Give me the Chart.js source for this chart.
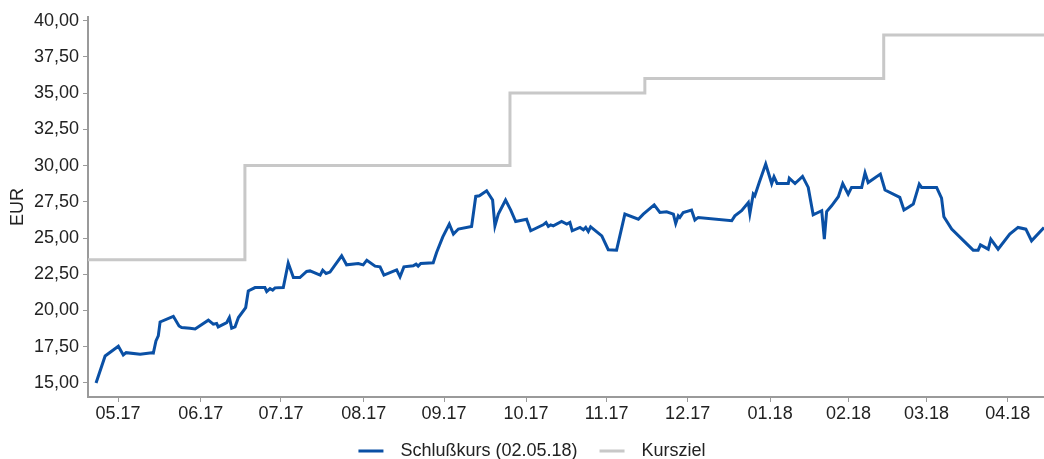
<!DOCTYPE html>
<html>
<head>
<meta charset="utf-8">
<script src="https://cdn.jsdelivr.net/npm/chart.js@4/dist/chart.umd.min.js"></script>
<style>
  html, body { margin: 0; padding: 0; background: #fff; }
  #wrap { width: 1044px; height: 459px; position: relative; }
</style>
</head>
<body>
<div id="wrap"><canvas id="chart"></canvas></div>
<script>
// days counted from 02.05.17
const closeDays = [0, 3.5, 8.6, 10.5, 11.6, 17.0, 21.5, 22.1, 23.1, 24.0, 24.7, 29.8, 32.0, 33.0, 36.2, 38.2,
  43.3, 45.2, 46.5, 47.1, 50.4, 51.4, 52.3, 53.6, 54.9, 57.7, 58.7, 61.3, 65.1, 65.8, 67.1, 68.1, 69.0,
  72.2, 74.1, 76.1, 78.6, 81.2, 82.5, 86.4, 87.4, 88.7, 90.2, 94.7, 96.6, 101.1, 103.0, 104.4, 107.6,
  109.5, 111.0, 115.9, 117.2, 118.7, 122.3, 123.4, 124.2, 125.2, 130.0, 131.3, 133.7, 136.2, 137.8,
  139.7, 144.8, 146.4, 147.8, 150.6, 152.9, 153.8, 155.1, 157.9, 159.9, 161.8, 166.0, 167.6, 172.4,
  173.5, 174.4, 175.3, 176.3, 179.5, 181.5, 182.7, 183.6, 186.6, 187.9, 188.8, 189.8, 190.7, 195.0,
  197.5, 200.7, 203.9, 209.1, 211.0, 215.2, 217.4, 220.0, 222.6, 223.5, 224.5, 225.1, 226.4, 229.6,
  230.9, 232.2, 245.1, 246.3, 248.9, 251.5, 252.1, 253.4, 254.0, 255.7, 258.2, 260.5, 261.4, 262.6,
  266.9, 267.3, 269.5, 272.4, 274.6, 276.5, 279.8, 280.8, 281.7, 283.6, 286.2, 287.9, 290.0, 291.3,
  295.2, 296.5, 297.7, 302.4, 304.2, 309.9, 311.5, 313.1, 315.1, 317.4, 318.3, 324.1, 326.0, 326.9,
  329.9, 338.2, 340.1, 341.0, 344.0, 345.0, 347.8, 352.3, 355.5, 358.5, 360.7, 365.5];
const closeValues = [15.0, 16.86, 17.53, 16.93, 17.09, 16.98, 17.09, 17.07, 17.9, 18.25, 19.21, 19.6, 18.93, 18.82, 18.78, 18.73,
  19.33, 19.05, 19.1, 18.87, 19.17, 19.51, 18.78, 18.87, 19.51, 20.2, 21.35, 21.58, 21.58, 21.31, 21.51, 21.4, 21.56,
  21.58, 23.27, 22.27, 22.27, 22.69, 22.73, 22.44, 22.78, 22.55, 22.65, 23.77, 23.15, 23.24, 23.15, 23.47, 23.06,
  23.01, 22.44, 22.8, 22.32, 23.01, 23.08, 23.2, 23.06, 23.24, 23.29, 24.0, 25.08, 25.96, 25.27,
  25.62, 25.8, 27.87, 27.91, 28.26, 27.62, 25.84, 26.65, 27.62, 26.93, 26.14, 26.3, 25.5, 25.91,
  26.07, 25.8, 25.91, 25.84, 26.14, 25.96, 26.07, 25.5, 25.73, 25.57, 25.73, 25.45, 25.77, 25.15,
  24.19, 24.16, 26.65, 26.3, 26.65, 27.29, 26.76, 26.81, 26.65, 26.0, 26.53, 26.42, 26.76, 26.93,
  26.24, 26.42, 26.19, 26.53, 26.88, 27.45, 26.69, 28.03, 27.91, 28.83, 30.1, 28.76, 29.23, 28.76,
  28.76, 29.13, 28.76, 29.25, 28.49, 26.6, 26.88, 24.92, 26.83, 27.22, 27.85, 28.76, 28.03, 28.49,
  28.49, 29.5, 28.83, 29.41, 28.31, 27.8, 26.93, 27.11, 27.34, 28.72, 28.49, 28.49, 27.75, 26.46,
  25.61, 24.16, 24.16, 24.53, 24.23, 24.92, 24.23, 25.27, 25.73, 25.61, 24.81, 25.73];

const targetDays = [-3.1, 57.4, 159.6, 211.6, 303.7, 365.5];
const targetValues = [23.5, 30, 35, 36, 39, 39];

const monthTicks = [8.5, 40.4, 71.3, 103.2, 134.2, 165.8, 196.9, 228.1, 259.9, 290.1, 320.2, 351.5];
const monthLabels = ['05.17', '06.17', '07.17', '08.17', '09.17', '10.17', '11.17', '12.17', '01.18', '02.18', '03.18', '04.18'];
const yTicks = [15, 17.5, 20, 22.5, 25, 27.5, 30, 32.5, 35, 37.5, 40];

const BLUE = '#0a50a5';
const GREY = '#c8c8c8';
const AXIS = '#9a9a9a';
const FONT = '"Liberation Sans", Arial, sans-serif';

const closePoints = closeDays.map((d, i) => ({ x: d, y: closeValues[i] }));
const targetPoints = targetDays.map((d, i) => ({ x: d, y: targetValues[i] }));

// legend drawn by hand: line, gap, label
const bottomLegend = {
  id: 'bottomLegend',
  afterDraw(chart) {
    const ctx = chart.ctx;
    ctx.save();
    ctx.font = '18px ' + FONT;
    ctx.textBaseline = 'middle';
    const items = chart.data.datasets.map(ds => ({
      text: ds.label, color: ds.borderColor, w: ctx.measureText(ds.label).width
    }));
    const total = items.reduce((s, it) => s + 42 + it.w, 0) + 22 * (items.length - 1);
    let x = chart.width / 2 - total / 2 + 10;
    const y = 451;
    items.forEach(it => {
      ctx.fillStyle = it.color;
      ctx.fillRect(x, y - 1.5, 25, 3);
      x += 42;
      ctx.fillStyle = '#222';
      ctx.fillText(it.text, x, y);
      x += it.w + 22;
    });
    ctx.restore();
  }
};

Chart.defaults.font.family = FONT;
Chart.defaults.font.size = 18;
Chart.defaults.color = '#222';

new Chart(document.getElementById('chart'), {
  type: 'line',
  data: {
    datasets: [{
      label: 'Schlußkurs (02.05.18)',
      data: closePoints,
      borderColor: BLUE,
      backgroundColor: BLUE,
      borderWidth: 3,
      pointRadius: 0,
      tension: 0
    }, {
      label: 'Kursziel',
      data: targetPoints,
      borderColor: GREY,
      backgroundColor: GREY,
      borderWidth: 3,
      pointRadius: 0,
      stepped: true
    }]
  },
  plugins: [bottomLegend],
  options: {
    responsive: true,
    maintainAspectRatio: false,
    animation: false,
    layout: { padding: { left: 2, right: 0, top: 17, bottom: 36 } },
    plugins: {
      legend: { display: false },
      tooltip: { enabled: false }
    },
    scales: {
      x: {
        type: 'linear',
        min: -3.1,
        max: 365.5,
        afterBuildTicks: axis => { axis.ticks = monthTicks.map(v => ({ value: v })); },
        afterFit: axis => { axis.height = 26; },
        ticks: {
          autoSkip: false,
          maxRotation: 0,
          padding: 1,
          callback: (value, index) => monthLabels[index]
        },
        grid: { drawOnChartArea: false, drawTicks: true, tickLength: 5, color: AXIS },
        border: { display: true, color: AXIS, width: 2 }
      },
      y: {
        min: 14.03,
        max: 40.25,
        afterBuildTicks: axis => { axis.ticks = yTicks.map(v => ({ value: v })); },
        afterFit: axis => { axis.width = 86; axis.paddingTop = 0; axis.paddingBottom = 0; },
        ticks: {
          padding: 4,
          callback: value => value.toFixed(2).replace('.', ',')
        },
        title: { display: true, text: 'EUR', padding: { top: 5, bottom: 0 } },
        grid: { drawOnChartArea: false, drawTicks: true, tickLength: 5, color: AXIS },
        border: { display: true, color: AXIS, width: 2 }
      }
    }
  }
});
</script>
</body>
</html>
